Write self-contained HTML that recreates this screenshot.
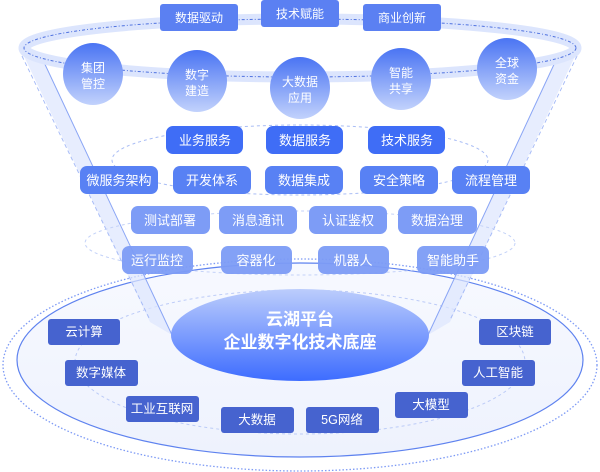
<!DOCTYPE html>
<html><head><meta charset="utf-8"><style>
html,body{margin:0;padding:0;background:#fff;width:600px;height:472px;overflow:hidden}
svg text{font-family:"Liberation Sans","Noto Sans CJK SC",sans-serif}
</style></head><body>
<svg width="600" height="472" viewBox="0 0 600 472" xmlns="http://www.w3.org/2000/svg">
<defs>
<linearGradient id="cg" x1="0" y1="0" x2="0" y2="1"><stop offset="0" stop-color="#4a74f3"/><stop offset="1" stop-color="#c2d2fc"/></linearGradient>
<linearGradient id="eg" x1="0" y1="0" x2="0" y2="1"><stop offset="0" stop-color="#bccdfc"/><stop offset="1" stop-color="#3d6cff"/></linearGradient>
<linearGradient id="bg" x1="0" y1="0" x2="0" y2="1"><stop offset="0" stop-color="#f7f9ff"/><stop offset="1" stop-color="#eef2fd"/></linearGradient>
</defs>
<ellipse cx="300" cy="365" rx="297" ry="106" fill="none" stroke="#7d9af5" stroke-width="1.3" stroke-dasharray="1.5 2"/>
<ellipse cx="300" cy="360" rx="283" ry="97" fill="url(#bg)" stroke="#5e82ef" stroke-width="1.2"/>
<ellipse cx="300" cy="362" rx="225" ry="72" fill="none" stroke="#bccbf7" stroke-width="1" stroke-dasharray="3 3"/>
<polygon points="22,52 42,58 172,335 150,322" fill="#dde6fd" opacity="0.7"/>
<line x1="42" y1="58" x2="172" y2="335" stroke="#8aa5f5" stroke-width="1"/>
<line x1="22" y1="56" x2="150" y2="320" stroke="#a8bcf7" stroke-width="1" stroke-dasharray="4 3"/>
<polygon points="577,52 557,58 428,335 450,322" fill="#dde6fd" opacity="0.7"/>
<line x1="557" y1="58" x2="428" y2="335" stroke="#8aa5f5" stroke-width="1"/>
<line x1="577" y1="56" x2="450" y2="320" stroke="#a8bcf7" stroke-width="1" stroke-dasharray="4 3"/>
<ellipse cx="300" cy="160" rx="188" ry="35" fill="none" stroke="#a9bdf5" stroke-width="1" stroke-dasharray="3 3"/>
<ellipse cx="300" cy="243" rx="215" ry="32" fill="none" stroke="#c4d2f8" stroke-width="1" stroke-dasharray="3 3"/>
<ellipse cx="300" cy="48" rx="276" ry="29" fill="none" stroke="#dce5fd" stroke-width="11"/>
<ellipse cx="300" cy="48" rx="276" ry="29" fill="none" stroke="#4f72e0" stroke-width="1" stroke-dasharray="3 2 1 2"/>
<g><rect x="160" y="4" width="78" height="27" rx="3" fill="#5b80f2"/><rect x="261" y="0" width="78" height="27" rx="3" fill="#5b80f2"/><rect x="363" y="4" width="78" height="27" rx="3" fill="#5b80f2"/></g>
<g fill="#fff" font-size="12" text-anchor="middle"><text x="199" y="22">数据驱动</text><text x="300" y="18">技术赋能</text><text x="402" y="22">商业创新</text></g>
<g fill="url(#cg)">
<ellipse cx="93" cy="74" rx="30" ry="31"/><ellipse cx="197" cy="81" rx="30" ry="31"/><ellipse cx="300" cy="88" rx="30" ry="31"/><ellipse cx="401" cy="79" rx="30" ry="31"/><ellipse cx="507" cy="69" rx="30" ry="31"/></g>
<g fill="#fff" font-size="12" text-anchor="middle">
<text x="93" y="72">集团</text><text x="93" y="88">管控</text>
<text x="197" y="79">数字</text><text x="197" y="95">建造</text>
<text x="300" y="86">大数据</text><text x="300" y="102">应用</text>
<text x="401" y="77">智能</text><text x="401" y="93">共享</text>
<text x="507" y="67">全球</text><text x="507" y="83">资金</text></g>
<g font-size="13" text-anchor="middle" fill="#fff">
<g fill="#3f6df6"><rect x="166" y="126" width="77" height="28" rx="7"/><rect x="266" y="126" width="77" height="28" rx="7"/><rect x="368" y="126" width="77" height="28" rx="7"/></g>
<text x="205" y="145">业务服务</text><text x="305" y="145">数据服务</text><text x="407" y="145">技术服务</text>
<g fill="#5881f4"><rect x="80" y="166" width="78" height="28" rx="7"/><rect x="173" y="166" width="78" height="28" rx="7"/><rect x="265" y="166" width="78" height="28" rx="7"/><rect x="360" y="166" width="78" height="28" rx="7"/><rect x="452" y="166" width="78" height="28" rx="7"/></g>
<text x="119" y="185">微服务架构</text><text x="212" y="185">开发体系</text><text x="304" y="185">数据集成</text><text x="399" y="185">安全策略</text><text x="491" y="185">流程管理</text>
<g fill="#7d9cf6"><rect x="131" y="206" width="79" height="28" rx="7"/><rect x="219" y="206" width="78" height="28" rx="7"/><rect x="309" y="206" width="78" height="28" rx="7"/><rect x="398" y="206" width="79" height="28" rx="7"/></g>
<text x="170" y="225">测试部署</text><text x="258" y="225">消息通讯</text><text x="348" y="225">认证鉴权</text><text x="437" y="225">数据治理</text>
<g fill="#7d9cf6" opacity="0.95"><rect x="122" y="246" width="71" height="28" rx="7"/><rect x="221" y="246" width="71" height="28" rx="7"/><rect x="318" y="246" width="71" height="28" rx="7"/><rect x="417" y="246" width="72" height="28" rx="7"/></g>
<text x="157" y="265">运行监控</text><text x="256" y="265">容器化</text><text x="353" y="265">机器人</text><text x="453" y="265">智能助手</text>
</g>
<ellipse cx="300" cy="335" rx="129" ry="46" fill="url(#eg)"/>
<g fill="#fff" font-size="17" font-weight="bold" text-anchor="middle"><text x="300" y="325">云湖平台</text><text x="300" y="348">企业数字化技术底座</text></g>
<g fill="#4663cf"><rect x="48" y="319" width="72" height="26" rx="3"/><rect x="65" y="360" width="73" height="26" rx="3"/><rect x="126" y="396" width="73" height="26" rx="3"/><rect x="221" y="407" width="73" height="26" rx="3"/><rect x="306" y="407" width="73" height="26" rx="3"/><rect x="395" y="392" width="73" height="26" rx="3"/><rect x="462" y="360" width="73" height="26" rx="3"/><rect x="479" y="319" width="72" height="26" rx="3"/></g>
<g fill="#fff" font-size="12.5" text-anchor="middle">
<text x="84" y="336">云计算</text><text x="101" y="377">数字媒体</text><text x="162" y="413">工业互联网</text><text x="257" y="424">大数据</text><text x="342" y="424">5G网络</text><text x="431" y="409">大模型</text><text x="498" y="377">人工智能</text><text x="515" y="336">区块链</text></g>
</svg>
</body></html>
